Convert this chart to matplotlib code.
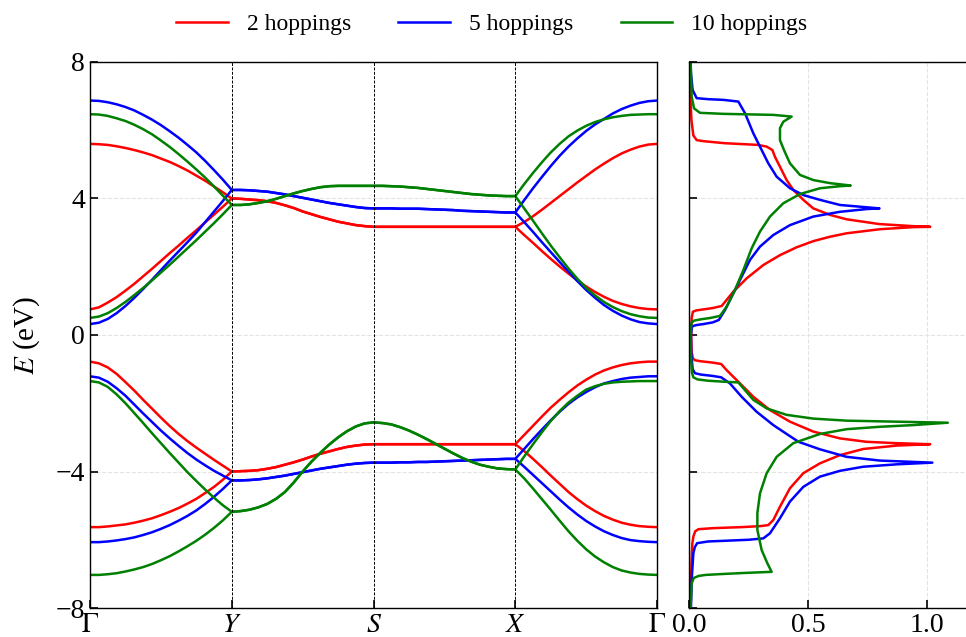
import matplotlib
matplotlib.use('Agg')
import matplotlib.pyplot as plt
import numpy as np

plt.rcParams['font.family'] = 'serif'
plt.rcParams['font.serif'] = ['Liberation Serif', 'DejaVu Serif']
plt.rcParams['mathtext.fontset'] = 'stix'

models = ['2 hoppings', '5 hoppings', '10 hoppings']
colors = ['red', 'blue', 'green']
k_labels = [r'$\Gamma$', r'$Y$', r'$S$', r'$X$', r'$\Gamma$']

# band energies per path segment, 17 samples each (ends shared)
# G-Y and X-G: [upper cond., lower cond., upper val., lower val.]
# Y-S and S-X: bands are pairwise degenerate -> [cond., val.]
red_gy = [[5.60, 5.59, 5.57, 5.53, 5.48, 5.42, 5.35, 5.27, 5.17, 5.07, 4.95, 4.82, 4.67, 4.52, 4.35, 4.18, 4.00],
          [0.75, 0.81, 0.95, 1.11, 1.30, 1.50, 1.72, 1.94, 2.17, 2.40, 2.62, 2.85, 3.07, 3.30, 3.53, 3.76, 4.00],
          [-0.78, -0.83, -0.95, -1.14, -1.38, -1.63, -1.90, -2.16, -2.42, -2.67, -2.90, -3.11, -3.30, -3.48, -3.66, -3.83, -4.00],
          [-5.63, -5.63, -5.61, -5.58, -5.55, -5.50, -5.44, -5.37, -5.28, -5.18, -5.07, -4.94, -4.80, -4.63, -4.45, -4.24, -4.00]]
red_ys = [[4.00, 3.99, 3.97, 3.95, 3.92, 3.87, 3.80, 3.72, 3.62, 3.54, 3.46, 3.39, 3.32, 3.27, 3.22, 3.19, 3.17],
          [-4.00, -3.99, -3.98, -3.96, -3.92, -3.87, -3.80, -3.73, -3.65, -3.56, -3.48, -3.41, -3.34, -3.28, -3.24, -3.21, -3.20]]
red_sx = [[3.17] * 17,
          [-3.20] * 17]
red_xg = [[3.17, 3.31, 3.48, 3.67, 3.87, 4.07, 4.27, 4.47, 4.66, 4.85, 5.02, 5.18, 5.32, 5.43, 5.52, 5.58, 5.60],
          [3.17, 2.93, 2.70, 2.46, 2.23, 2.01, 1.80, 1.60, 1.42, 1.26, 1.12, 1.00, 0.91, 0.84, 0.79, 0.76, 0.75],
          [-3.20, -2.93, -2.66, -2.39, -2.13, -1.90, -1.68, -1.48, -1.31, -1.16, -1.04, -0.95, -0.88, -0.83, -0.80, -0.78, -0.78],
          [-3.20, -3.40, -3.63, -3.87, -4.12, -4.36, -4.60, -4.81, -5.00, -5.16, -5.30, -5.41, -5.50, -5.56, -5.60, -5.62, -5.63]]

blue_gy = [[6.87, 6.86, 6.82, 6.76, 6.68, 6.58, 6.45, 6.31, 6.15, 5.97, 5.78, 5.57, 5.35, 5.10, 4.83, 4.55, 4.25],
           [0.32, 0.36, 0.47, 0.64, 0.85, 1.09, 1.35, 1.62, 1.90, 2.18, 2.45, 2.72, 3.00, 3.31, 3.62, 3.93, 4.25],
           [-1.21, -1.25, -1.37, -1.56, -1.78, -2.04, -2.30, -2.55, -2.80, -3.03, -3.25, -3.46, -3.65, -3.82, -3.98, -4.12, -4.26],
           [-6.07, -6.07, -6.05, -6.02, -5.98, -5.93, -5.86, -5.78, -5.68, -5.57, -5.44, -5.30, -5.14, -4.95, -4.74, -4.51, -4.26]]
blue_ys = [[4.25, 4.25, 4.24, 4.22, 4.20, 4.16, 4.12, 4.07, 4.02, 3.97, 3.92, 3.87, 3.83, 3.79, 3.75, 3.72, 3.71],
           [-4.26, -4.26, -4.25, -4.23, -4.20, -4.16, -4.12, -4.07, -4.02, -3.97, -3.92, -3.88, -3.84, -3.80, -3.77, -3.75, -3.74]]
blue_sx = [[3.71, 3.71, 3.71, 3.70, 3.70, 3.70, 3.69, 3.68, 3.67, 3.66, 3.64, 3.63, 3.62, 3.61, 3.60, 3.59, 3.59],
           [-3.74, -3.74, -3.74, -3.73, -3.73, -3.72, -3.72, -3.71, -3.70, -3.69, -3.68, -3.67, -3.66, -3.65, -3.64, -3.63, -3.63]]
blue_xg = [[3.59, 3.95, 4.30, 4.63, 4.95, 5.25, 5.52, 5.76, 5.98, 6.17, 6.33, 6.49, 6.62, 6.72, 6.80, 6.85, 6.87],
           [3.59, 3.31, 3.02, 2.72, 2.43, 2.14, 1.86, 1.58, 1.32, 1.09, 0.88, 0.71, 0.57, 0.46, 0.38, 0.34, 0.32],
           [-3.63, -3.34, -3.05, -2.77, -2.50, -2.25, -2.02, -1.83, -1.67, -1.53, -1.42, -1.35, -1.29, -1.25, -1.23, -1.21, -1.21],
           [-3.63, -3.86, -4.10, -4.34, -4.58, -4.82, -5.05, -5.26, -5.45, -5.61, -5.75, -5.86, -5.95, -6.01, -6.04, -6.06, -6.07]]

green_gy = [[6.47, 6.46, 6.42, 6.35, 6.27, 6.16, 6.03, 5.88, 5.70, 5.51, 5.30, 5.08, 4.85, 4.61, 4.35, 4.08, 3.81],
            [0.50, 0.54, 0.64, 0.79, 0.97, 1.17, 1.38, 1.60, 1.83, 2.06, 2.30, 2.54, 2.78, 3.03, 3.28, 3.54, 3.81],
            [-1.35, -1.39, -1.52, -1.74, -2.00, -2.29, -2.58, -2.88, -3.17, -3.46, -3.74, -4.02, -4.28, -4.53, -4.77, -4.99, -5.18],
            [-7.03, -7.03, -7.01, -6.98, -6.93, -6.87, -6.80, -6.71, -6.60, -6.48, -6.34, -6.19, -6.03, -5.85, -5.65, -5.43, -5.18]]
green_ys = [[3.81, 3.81, 3.83, 3.87, 3.92, 3.99, 4.07, 4.15, 4.22, 4.28, 4.33, 4.36, 4.37, 4.37, 4.37, 4.37, 4.37],
            [-5.18, -5.16, -5.12, -5.05, -4.95, -4.80, -4.60, -4.32, -4.00, -3.71, -3.45, -3.21, -3.00, -2.82, -2.68, -2.59, -2.56]]
green_sx = [[4.37, 4.37, 4.36, 4.35, 4.33, 4.31, 4.28, 4.25, 4.22, 4.19, 4.16, 4.13, 4.11, 4.09, 4.08, 4.07, 4.07],
            [-2.56, -2.58, -2.62, -2.70, -2.80, -2.92, -3.05, -3.19, -3.33, -3.47, -3.60, -3.71, -3.80, -3.86, -3.91, -3.93, -3.94]]
green_xg = [[4.07, 4.42, 4.75, 5.06, 5.35, 5.60, 5.82, 5.99, 6.13, 6.24, 6.32, 6.38, 6.42, 6.45, 6.46, 6.47, 6.47],
            [4.07, 3.71, 3.35, 2.98, 2.62, 2.28, 1.95, 1.65, 1.38, 1.16, 0.97, 0.82, 0.70, 0.61, 0.55, 0.51, 0.50],
            [-3.94, -3.56, -3.20, -2.85, -2.52, -2.23, -1.98, -1.78, -1.60, -1.50, -1.43, -1.39, -1.37, -1.36, -1.35, -1.35, -1.35],
            [-3.94, -4.20, -4.50, -4.81, -5.12, -5.44, -5.75, -6.03, -6.28, -6.49, -6.66, -6.80, -6.90, -6.96, -7.00, -7.02, -7.03]]

# density of states: energies and values
red_dos_e = [-8.0, -7.0, -6.5, -6.1, -5.91, -5.75, -5.69, -5.66, -5.63, -5.60,
             -5.57, -5.42, -5.03, -4.49, -4.05, -3.76, -3.52, -3.34, -3.24, -3.20,
             -3.17, -3.13, -3.03, -2.83, -2.54, -2.20, -1.81, -1.37, -1.03, -0.85,
             -0.81, -0.77, -0.74, -0.68, -0.5, 0.0, 0.5, 0.68, 0.72, 0.75,
             0.79, 0.85, 1.27, 1.66, 2.05, 2.34, 2.57, 2.75, 2.88, 2.98,
             3.10, 3.16, 3.17, 3.19, 3.25, 3.39, 3.52, 3.71, 3.96, 4.25,
             4.54, 4.93, 5.22, 5.42, 5.52, 5.57, 5.62, 5.68, 5.71, 5.85,
             6.3, 6.89, 8.0]
red_dos = [0.007, 0.009, 0.011, 0.014, 0.018, 0.026, 0.04, 0.10, 0.22, 0.30,
           0.333, 0.354, 0.382, 0.424, 0.48, 0.55, 0.634, 0.732, 0.872, 1.013,
           0.872, 0.746, 0.634, 0.522, 0.424, 0.34, 0.27, 0.207, 0.158, 0.135,
           0.10, 0.05, 0.025, 0.016, 0.011, 0.009, 0.011, 0.016, 0.03, 0.06,
           0.10, 0.137, 0.186, 0.242, 0.312, 0.382, 0.452, 0.522, 0.592, 0.662,
           0.802, 0.942, 1.013, 0.94, 0.80, 0.662, 0.592, 0.522, 0.48, 0.438,
           0.41, 0.382, 0.361, 0.35, 0.326, 0.29, 0.15, 0.06, 0.032, 0.018,
           0.010, 0.006, 0.003]

blue_dos_e = [-8.0, -7.18, -6.40, -6.22, -6.10, -6.05, -6.03, -6.00, -5.96, -5.81,
              -5.37, -4.88, -4.45, -4.15, -3.98, -3.86, -3.79, -3.74, -3.68, -3.57,
              -3.35, -3.13, -2.90, -2.64, -2.25, -1.81, -1.42, -1.24, -1.20, -1.16,
              -1.12, -1.0, -0.5, 0.0, 0.20, 0.26, 0.29, 0.32, 0.37, 0.44,
              0.73, 1.22, 1.71, 2.20, 2.59, 2.93, 3.22, 3.47, 3.61, 3.69,
              3.71, 3.81, 3.96, 4.10, 4.30, 4.64, 5.03, 5.42, 5.91, 6.50,
              6.84, 6.89, 6.91, 6.94, 7.18, 7.68, 8.0]
blue_dos = [0.008, 0.011, 0.018, 0.024, 0.034, 0.08, 0.15, 0.25, 0.312, 0.34,
            0.382, 0.424, 0.48, 0.55, 0.634, 0.732, 0.872, 1.022, 0.802, 0.662,
            0.55, 0.46, 0.41, 0.354, 0.284, 0.221, 0.172, 0.135, 0.10, 0.05,
            0.025, 0.015, 0.009, 0.008, 0.011, 0.015, 0.03, 0.06, 0.10, 0.125,
            0.151, 0.186, 0.221, 0.256, 0.298, 0.354, 0.424, 0.522, 0.634, 0.746,
            0.80, 0.634, 0.55, 0.48, 0.424, 0.368, 0.333, 0.305, 0.27, 0.235,
            0.207, 0.144, 0.08, 0.032, 0.015, 0.008, 0.006]

green_dos_e = [-8.0, -7.28, -7.12, -7.06, -7.03, -7.00, -6.97, -6.94, -6.69, -6.30,
               -5.71, -5.22, -4.64, -4.05, -3.57, -3.17, -2.90, -2.76, -2.69, -2.64,
               -2.57, -2.54, -2.51, -2.45, -2.34, -2.15, -1.90, -1.56, -1.39, -1.37,
               -1.34, -1.30, -1.24, -1.1, -0.5, 0.0, 0.35, 0.42, 0.46, 0.50,
               0.56, 0.83, 1.32, 1.90, 2.54, 3.03, 3.47, 3.86, 4.13, 4.30,
               4.36, 4.38, 4.45, 4.54, 4.69, 5.03, 5.40, 5.71, 6.06, 6.25,
               6.40, 6.45, 6.48, 6.51, 6.64, 6.98, 7.68, 8.0]
green_dos = [0.006, 0.011, 0.02, 0.04, 0.07, 0.15, 0.24, 0.347, 0.329, 0.305,
             0.287, 0.287, 0.298, 0.326, 0.368, 0.438, 0.55, 0.662, 0.80, 0.942,
             1.087, 0.872, 0.662, 0.522, 0.41, 0.326, 0.27, 0.228, 0.207, 0.15,
             0.08, 0.035, 0.018, 0.012, 0.007, 0.006, 0.010, 0.02, 0.05, 0.09,
             0.13, 0.158, 0.193, 0.228, 0.263, 0.298, 0.34, 0.396, 0.466, 0.55,
             0.634, 0.679, 0.592, 0.522, 0.466, 0.424, 0.400, 0.382, 0.382, 0.396,
             0.431, 0.354, 0.144, 0.046, 0.021, 0.011, 0.008, 0.007]

segments = [(red_gy, red_ys, red_sx, red_xg),
            (blue_gy, blue_ys, blue_sx, blue_xg),
            (green_gy, green_ys, green_sx, green_xg)]
dos_e = [red_dos_e, blue_dos_e, green_dos_e]
dos = [red_dos, blue_dos, green_dos]

fig = plt.figure(figsize=(9.66, 6.37), dpi=100)
ax = fig.add_axes([0.0932, 0.0455, 0.587, 0.8572])
ax2 = fig.add_axes([0.7133, 0.0455, 0.2957, 0.8572])

nodes = np.arange(5)
k = np.concatenate([np.linspace(0, 1, 17), np.linspace(1, 2, 17)[1:],
                    np.linspace(2, 3, 17)[1:], np.linspace(3, 4, 17)[1:]])

lines = []
for (gy, ys, sx, xg), c, name in zip(segments, colors, models):
    for i in range(4):
        j = i // 2  # degenerate partner on Y-S-X
        band = gy[i] + ys[j][1:] + sx[j][1:] + xg[i][1:]
        ln, = ax.plot(k, band, color=c, lw=1.8)
        if i == 0:
            lines.append(ln)

for x in nodes:
    ax.axvline(x, color='black', ls=(0, (3, 1.5)), lw=0.7, zorder=3)

ax.set_xlim(0, 4)
ax.set_ylim(-8, 8)
ax.set_xticks(nodes)
ax.set_xticklabels(k_labels)
ax.set_yticks([-8, -4, 0, 4, 8])
ax.set_ylabel(r'$E$ (eV)', fontsize=21, labelpad=10)
ax.grid(True, axis='y', ls='--', color='#e3e3e3', lw=0.8)
ax.tick_params(direction='in', labelsize=20, length=6, width=1.2)

for e, d, c in zip(dos_e, dos, colors):
    ax2.plot(d, e, color=c, lw=1.8)

ax2.set_xlim(0, 1.2)
ax2.set_ylim(-8, 8)
ax2.set_xticks([0.0, 0.5, 1.0])
ax2.set_xticklabels(['0.0', '0.5', '1.0'])
ax2.set_yticks([-8, -4, 0, 4, 8])
ax2.set_yticklabels([])
ax2.grid(True, ls='--', color='#e3e3e3', lw=0.8)
ax2.tick_params(direction='in', labelsize=20, length=6, width=1.2)

for a in (ax, ax2):
    for s in a.spines.values():
        s.set_linewidth(1.0)

fig.legend(lines, models, loc='upper center', bbox_to_anchor=(0.509, 1.012), ncol=3,
           frameon=False, fontsize=17, handlelength=2.2, handletextpad=0.8,
           columnspacing=2.0)

fig.savefig('out.png', dpi=100)
